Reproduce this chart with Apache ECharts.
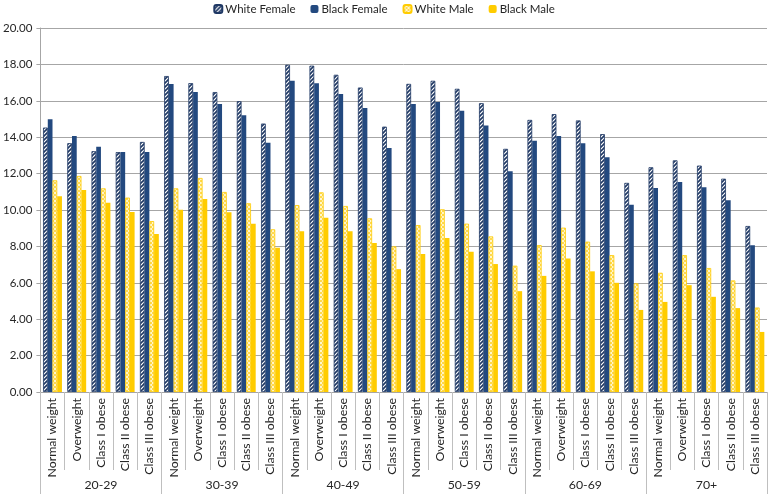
<!DOCTYPE html>
<html>
<head>
<meta charset="utf-8">
<script src="https://cdn.jsdelivr.net/npm/echarts@6/dist/echarts.min.js"></script>
<style>
html,body{margin:0;padding:0;background:#fff;}
#chart{width:768px;height:494px;}
</style>
</head>
<body>
<div id="chart"></div>
<script>
var bmiCategories = ['Normal weight', 'Overweight', 'Class I obese', 'Class II obese', 'Class III obese'];
var ageGroups = ['20-29', '30-39', '40-49', '50-59', '60-69', '70+'];
var seriesNames = ['White Female', 'Black Female', 'White Male', 'Black Male'];
var yTicks = [0, 2, 4, 6, 8, 10, 12, 14, 16, 18, 20];

var whiteFemale = [
  14.53, 13.67, 13.23, 13.18, 13.74,
  17.36, 16.97, 16.48, 15.98, 14.75,
  17.98, 17.93, 17.43, 16.73, 14.58,
  16.93, 17.10, 16.66, 15.87, 13.36,
  14.95, 15.27, 14.92, 14.17, 11.49,
  12.35, 12.73, 12.44, 11.72, 9.12
];
var blackFemale = [
  14.99, 14.07, 13.47, 13.18, 13.18,
  16.92, 16.49, 15.83, 15.21, 13.70,
  17.10, 16.97, 16.38, 15.60, 13.41,
  15.82, 15.94, 15.45, 14.64, 12.13,
  13.80, 14.07, 13.67, 12.90, 10.29,
  11.21, 11.54, 11.25, 10.53, 8.06
];
var whiteMale = [
  11.63, 11.87, 11.19, 10.68, 9.39,
  11.19, 11.76, 10.99, 10.37, 8.94,
  10.27, 10.97, 10.22, 9.54, 8.00,
  9.17, 10.04, 9.25, 8.55, 6.94,
  8.07, 9.03, 8.26, 7.52, 5.97,
  6.55, 7.52, 6.81, 6.13, 4.64
];
var blackMale = [
  10.75, 11.10, 10.40, 9.89, 8.68,
  10.02, 10.60, 9.87, 9.25, 7.93,
  8.83, 9.58, 8.83, 8.18, 6.75,
  7.58, 8.46, 7.71, 7.03, 5.54,
  6.38, 7.34, 6.63, 6.00, 4.51,
  4.95, 5.87, 5.23, 4.61, 3.30
];

var xLabels = [];
ageGroups.forEach(function () { bmiCategories.forEach(function (c) { xLabels.push(c); }); });

function hatchPattern() {
  var c = document.createElement('canvas');
  c.width = 4; c.height = 4;
  var g = c.getContext('2d');
  g.fillStyle = '#ffffff'; g.fillRect(0, 0, 4, 4);
  g.strokeStyle = '#1F3864'; g.lineWidth = 1.6;
  g.beginPath();
  g.moveTo(-1, 5); g.lineTo(5, -1);
  g.moveTo(-1, 1); g.lineTo(1, -1);
  g.moveTo(3, 5); g.lineTo(5, 3);
  g.stroke();
  return { image: c, repeat: 'repeat' };
}
function checkPattern() {
  var c = document.createElement('canvas');
  c.width = 4; c.height = 4;
  var g = c.getContext('2d');
  g.fillStyle = '#FFF6CC'; g.fillRect(0, 0, 4, 4);
  g.fillStyle = '#FFD84D';
  g.fillRect(0, 0, 2, 2); g.fillRect(2, 2, 2, 2);
  return { image: c, repeat: 'repeat' };
}

var FONT = 'Lato, "Open Sans", sans-serif';
var chart = echarts.init(document.getElementById('chart'), null, { renderer: 'canvas' });
var styles = [
  { color: hatchPattern(), borderColor: '#1F3864', borderWidth: 0.8 },
  { color: '#23497F' },
  { color: checkPattern(), borderColor: '#FFCC00', borderWidth: 0.8 },
  { color: '#FFCC00' }
];
var dataArr = [whiteFemale, blackFemale, whiteMale, blackMale];

chart.setOption({
  animation: false,
  backgroundColor: '#ffffff',
  textStyle: { fontFamily: FONT },
  legend: {
    top: -2,
    left: 'center',
    itemWidth: 8,
    itemHeight: 8,
    itemGap: 15,
    textStyle: { fontFamily: FONT, fontSize: 11.5, color: '#262626', padding: [0, 0, 0, -2] },
    data: seriesNames
  },
  grid: { left: 36, right: 1, top: 28, bottom: 102, containLabel: false },
  xAxis: [
    {
      type: 'category',
      data: xLabels,
      position: 'bottom',
      axisLine: { show: true, lineStyle: { color: '#A6A6A6', width: 1 } },
      axisTick: { show: true, interval: 0, length: 78, lineStyle: { color: '#BFBFBF' } },
      axisLabel: { interval: 0, rotate: 90, margin: 6, fontSize: 12.3, color: '#262626', fontFamily: FONT }
    },
    {
      type: 'category',
      data: ageGroups,
      position: 'bottom',
      axisLine: { show: false },
      axisTick: { show: true, interval: 0, length: 102, lineStyle: { color: '#BFBFBF' } },
      axisLabel: { interval: 0, margin: 87, fontSize: 12.3, color: '#262626', fontFamily: FONT }
    }
  ],
  yAxis: {
    type: 'value',
    min: yTicks[0],
    max: yTicks[yTicks.length - 1],
    interval: 2,
    axisLine: { show: true, lineStyle: { color: '#A6A6A6' } },
    axisTick: { show: true, length: 4, lineStyle: { color: '#A6A6A6' } },
    splitLine: { show: true, lineStyle: { color: '#A6A6A6', width: 1 } },
    axisLabel: {
      margin: 8, fontSize: 11.5, color: '#262626', fontFamily: FONT,
      formatter: function (v) { return v.toFixed(2); }
    }
  },
  series: seriesNames.map(function (name, i) {
    return {
      name: name,
      type: 'bar',
      xAxisIndex: 0,
      barGap: '0%',
      barCategoryGap: '22%',
      itemStyle: styles[i],
      data: dataArr[i]
    };
  })
});
</script>
</body>
</html>
